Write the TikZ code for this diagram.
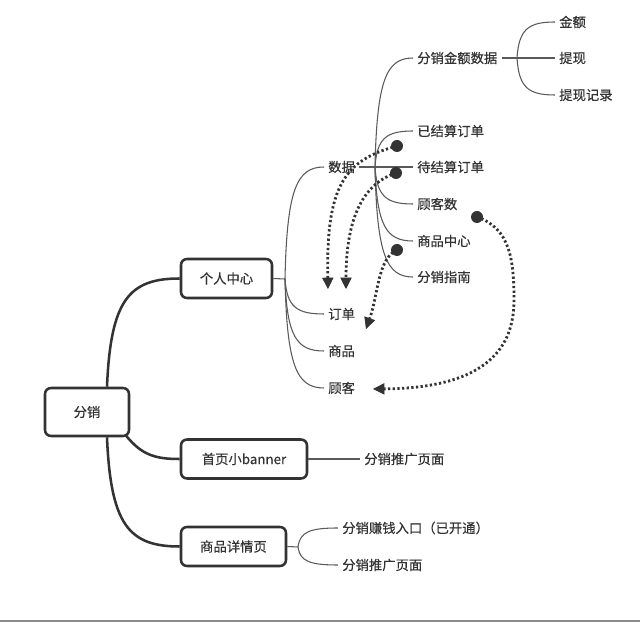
\documentclass[tikz,border=0pt]{standalone}
\usepackage{fontspec}
\setmainfont{Noto Sans CJK SC}[UprightFeatures={FakeBold=0.35}]
\usetikzlibrary{calc,arrows.meta}
\definecolor{ink}{HTML}{333333}
\definecolor{lnk}{HTML}{5A5A5A}
\definecolor{rule}{HTML}{8C8C8C}
\begin{document}
\begin{tikzpicture}[x=0.75pt,y=-0.75pt,
  every node/.style={font=\fontsize{10}{12}\selectfont, text=ink},
  box/.style={draw=ink, line width=1.9pt, rounded corners=4.5pt, fill=white, minimum height=29.25pt, inner sep=0pt},
  leaf/.style={anchor=west, inner xsep=3pt, inner ysep=1pt},
  thinln/.style={draw=lnk, line width=0.8pt},
  thickln/.style={draw=ink, line width=1.9pt},
  mm/.style={to path={let \p1=(\tikztostart), \p2=(\tikztotarget) in
     .. controls ({\x1+0.05*(\x2-\x1)},{\y1+0.8*(\y2-\y1)}) and ({\x1+0.3*(\x2-\x1)},\y2) .. (\tikztotarget) \tikztonodes}},
  dotarrow/.style={draw=ink, line width=2.1pt, dash pattern=on 1.7pt off 1.8pt,
     -{Triangle[length=8.5pt,width=8.5pt,line width=0.5pt]}},
  dotc/.style={fill=ink}
]
\fill[white] (0,0) rectangle (640,623);
\useasboundingbox (0,0) rectangle (640,623);

% main boxes
\node[box, minimum width=63pt, minimum height=36pt] (fx) at (87,412) {分销};
\node[box, minimum width=68.25pt] (grzx) at (226.5,278.5) {个人中心};
\node[box, minimum width=94.5pt] (sy) at (244,459) {首页小banner};
\node[box, minimum width=78.75pt] (spxq) at (233.5,546.5) {商品详情页};

% leaves
\node[leaf] (shuju) at (324,167) {数据};
\node[leaf] (dingdan) at (324,314) {订单};
\node[leaf] (shangpin) at (324,351) {商品};
\node[leaf] (guke) at (324,388) {顾客};
\node[leaf] (fxjesj) at (413,58) {分销金额数据};
\node[leaf] (yjs) at (413,131) {已结算订单};
\node[leaf] (djs) at (413,167) {待结算订单};
\node[leaf] (gks) at (413,204) {顾客数};
\node[leaf] (spzx) at (413,241) {商品中心};
\node[leaf] (fxzn) at (413,277) {分销指南};
\node[leaf] (je) at (555,22) {金额};
\node[leaf] (tx) at (555,58) {提现};
\node[leaf] (txjl) at (555,95) {提现记录};
\node[leaf] (tgym1) at (360,459) {分销推广页面};
\node[leaf] (zqrk) at (338,528) {分销赚钱入口（已开通）};
\node[leaf] (tgym2) at (338,565) {分销推广页面};

% branch points
\coordinate (b1) at (285,279);
\coordinate (b2) at (375,167);
\coordinate (b3) at (517,58);
\coordinate (b4) at (298,547);

% thick connectors from root
\draw[thickln] ([xshift=15pt]fx.north) to[mm] (grzx.west);
\draw[thickln] ([xshift=15pt]fx.south) to[mm] (spxq.west);
\draw[thickln] ([xshift=-3pt,yshift=1pt]fx.south east) .. controls (142,455) and (155,459) .. (sy.west);

% thin connectors
\draw[thinln] (grzx.east) -- (b1);
\draw[thinln] (b1) to[mm] (shuju.west);
\draw[thinln] (b1) to[mm] (dingdan.west);
\draw[thinln] (b1) to[mm] (shangpin.west);
\draw[thinln] (b1) to[mm] (guke.west);

\draw[thinln] (shuju.east) -- (djs.west);
\draw[thinln] (b2) to[mm] (fxjesj.west);
\draw[thinln] (b2) to[mm] (yjs.west);
\draw[thinln] (b2) to[mm] (gks.west);
\draw[thinln] (b2) to[mm] (spzx.west);
\draw[thinln] (b2) to[mm] (fxzn.west);

\draw[thinln] (fxjesj.east) -- (tx.west);
\draw[thinln] (b3) to[mm] (je.west);
\draw[thinln] (b3) to[mm] (txjl.west);

\draw[thinln] (sy.east) -- (tgym1.west);
\draw[thinln] (spxq.east) -- (b4);
\draw[thinln] (b4) to[mm] (zqrk.west);
\draw[thinln] (b4) to[mm] (tgym2.west);

% dotted arrows
\coordinate (d1) at (397,146);
\coordinate (d2) at (396,173);
\coordinate (d3) at (397,250);
\coordinate (d4) at (477,217);
\coordinate (e1) at (328,289);
\coordinate (e2) at (346,289);
\coordinate (e3) at (366,329);
\coordinate (e4) at (373,389);

\draw[dotarrow] (d1) .. controls (345,160) and (326,185) .. (e1);
\draw[dotarrow] (d2) .. controls (365,183) and (346,215) .. (e2);
\draw[dotarrow] (d3) .. controls (378,258) and (378,295) .. (e3);
\draw[dotarrow] (d4) .. controls (510,228) and (514,260) .. (514,300)
                     .. controls (514,345) and (490,388) .. (e4);
\fill[dotc] (d1) circle (4.5pt);
\fill[dotc] (d2) circle (4.5pt);
\fill[dotc] (d3) circle (4.5pt);
\fill[dotc] (d4) circle (4.5pt);

% bottom rule
\draw[rule, line width=1.5pt] (0,621.5) -- (640,621.5);
\end{tikzpicture}
\end{document}
